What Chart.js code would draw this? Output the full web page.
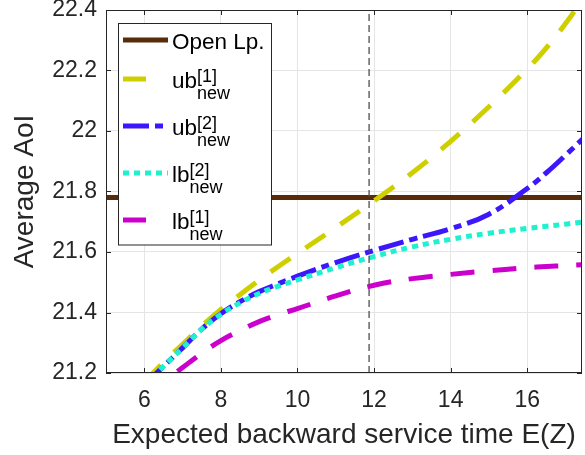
<!DOCTYPE html>
<html>
<head>
<meta charset="utf-8">
<script src="https://cdn.jsdelivr.net/npm/chart.js@4.4.0/dist/chart.umd.min.js"></script>
<style>
  html, body { margin: 0; padding: 0; background: #fff; }
  canvas { display: block; }
</style>
</head>
<body>
<canvas id="aoiChart" width="585" height="455"></canvas>
<script>
// values
const xValues = [6, 6.5, 7, 7.5, 8, 8.5, 9, 9.5, 10, 11, 12, 13, 14, 15, 16, 16.5, 17, 17.5];
const ub1New = [21.17, 21.235, 21.295, 21.355, 21.41, 21.459, 21.507, 21.552, 21.595, 21.681, 21.769, 21.862, 21.966, 22.08, 22.205, 22.275, 22.355, 22.445];
const ub2New = [21.16, 21.222, 21.283, 21.345, 21.396, 21.436, 21.469, 21.495, 21.52, 21.565, 21.605, 21.642, 21.677, 21.725, 21.81, 21.862, 21.92, 21.98];
const lb2New = [21.16, 21.222, 21.283, 21.345, 21.394, 21.432, 21.463, 21.487, 21.508, 21.548, 21.585, 21.617, 21.642, 21.662, 21.678, 21.685, 21.692, 21.7];
const lb1New = [21.12, 21.17, 21.218, 21.265, 21.307, 21.34, 21.37, 21.393, 21.413, 21.455, 21.49, 21.512, 21.526, 21.538, 21.548, 21.552, 21.555, 21.558];
const openLp = 21.78;
const markerX = 11.87;

const xRange = [5, 17.43];
const yRange = [21.2, 22.4];
const xTicks = [6, 8, 10, 12, 14, 16];
const yTicks = [21.2, 21.4, 21.6, 21.8, 22, 22.2, 22.4];

const legendLabels = [
    { main: 'Open Lp.' },
    { main: 'ub', sup: '[1]', sub: 'new' },
    { main: 'ub', sup: '[2]', sub: 'new' },
    { main: 'lb', sup: '[2]', sub: 'new' },
    { main: 'lb', sup: '[1]', sub: 'new' },
];

const FONT = '"Liberation Sans", Arial, Helvetica, sans-serif';
const AXIS_COLOR = '#262626';

const toXY = (ys) => xValues.map((x, i) => ({ x: x, y: ys[i] }));

const curve = (data, color, dash, order) => ({
    data: data,
    borderColor: color,
    borderWidth: 5,
    borderDash: dash,
    borderCapStyle: 'butt',
    pointRadius: 0,
    fill: false,
    tension: 0.4,
    clip: 0,
    order: order,
});

// box around the axes, with inward ticks on all four sides
const framePlugin = {
    id: 'frame',
    afterDatasetsDraw(chart) {
        const { ctx, chartArea: a, scales } = chart;
        ctx.save();
        ctx.strokeStyle = AXIS_COLOR;
        ctx.lineWidth = 1;
        ctx.setLineDash([]);
        ctx.strokeRect(a.left + 0.5, a.top + 0.5, a.right - a.left - 1, a.bottom - a.top - 1);
        ctx.beginPath();
        xTicks.forEach((v) => {
            const px = Math.round(scales.x.getPixelForValue(v)) + 0.5;
            ctx.moveTo(px, a.bottom); ctx.lineTo(px, a.bottom - 5);
            ctx.moveTo(px, a.top); ctx.lineTo(px, a.top + 5);
        });
        yTicks.forEach((v) => {
            const py = Math.round(scales.y.getPixelForValue(v)) + 0.5;
            ctx.moveTo(a.left, py); ctx.lineTo(a.left + 5, py);
            ctx.moveTo(a.right, py); ctx.lineTo(a.right - 5, py);
        });
        ctx.stroke();
        ctx.restore();
    },
};

// MATLAB style legend with sub/superscripts
const legendPlugin = {
    id: 'boxLegend',
    afterDraw(chart) {
        const ctx = chart.ctx;
        const rowsY = [40, 79, 126, 173, 220];
        ctx.save();
        ctx.fillStyle = '#fff';
        ctx.fillRect(118.5, 23.5, 153, 221.5);
        ctx.strokeStyle = AXIS_COLOR;
        ctx.lineWidth = 1;
        ctx.strokeRect(118.5, 23.5, 153, 221.5);

        legendLabels.forEach((lab, i) => {
            const ds = chart.data.datasets[i];
            const y = rowsY[i];
            const dashed = ds.borderDash && ds.borderDash.length === 2 && ds.borderDash[0] > 10;
            ctx.beginPath();
            ctx.setLineDash(ds.borderDash || []);
            ctx.lineWidth = ds.borderWidth;
            ctx.strokeStyle = ds.borderColor;
            ctx.lineCap = 'butt';
            ctx.moveTo(123, y);
            ctx.lineTo(dashed ? 146 : 168, y);
            ctx.stroke();

            ctx.setLineDash([]);
            ctx.fillStyle = '#000';
            ctx.textAlign = 'left';
            ctx.textBaseline = 'alphabetic';
            ctx.font = '22.5px ' + FONT;
            const base = y + 8.5;
            ctx.fillText(lab.main, 172, base);
            if (lab.sup) {
                const w = ctx.measureText(lab.main).width;
                ctx.font = '18px ' + FONT;
                ctx.fillText(lab.sup, 172 + w, base - 6);
                ctx.fillText(lab.sub, 172 + w, base + 11);
            }
        });
        ctx.restore();
    },
};

new Chart(document.getElementById('aoiChart'), {
    type: 'line',
    data: {
        datasets: [
            curve([{ x: xRange[0], y: openLp }, { x: xRange[1], y: openLp }], '#582c0b', [], 6),
            curve(toXY(ub1New), '#cfcf00', [24, 18], 5),
            curve(toXY(ub2New), '#3d17fb', [26, 6, 8, 6], 4),
            curve(toXY(lb2New), '#1ff0cf', [6, 5], 3),
            curve(toXY(lb1New), '#cc00cc', [24, 18], 2),
            {
                data: [{ x: markerX, y: yRange[0] }, { x: markerX, y: yRange[1] }],
                borderColor: '#4d4d4d',
                borderWidth: 1.3,
                borderDash: [7, 4],
                pointRadius: 0,
                fill: false,
                clip: 0,
                order: 1,
            },
        ],
    },
    options: {
        responsive: false,
        animation: false,
        devicePixelRatio: 1,
        layout: { padding: { top: 10, right: 3, left: 0, bottom: 0 } },
        plugins: {
            legend: { display: false },
            tooltip: { enabled: false },
        },
        scales: {
            x: {
                type: 'linear',
                min: xRange[0],
                max: xRange[1],
                afterBuildTicks: (s) => { s.ticks = xTicks.map((v) => ({ value: v })); },
                afterFit: (s) => { s.height = 82; s.paddingLeft = 0; s.paddingRight = 0; },
                grid: { color: '#e5e5e5', lineWidth: 1, drawTicks: false },
                border: { display: false },
                ticks: {
                    color: AXIS_COLOR,
                    font: { family: FONT, size: 23 },
                    padding: 14,
                    maxRotation: 0,
                    autoSkip: false,
                    callback: (v) => String(v),
                },
                title: {
                    display: true,
                    text: 'Expected backward service time E(Z)',
                    color: AXIS_COLOR,
                    font: { family: FONT, size: 28 },
                    padding: { top: 0, bottom: 3 },
                },
            },
            y: {
                type: 'linear',
                min: yRange[0],
                max: yRange[1],
                afterBuildTicks: (s) => { s.ticks = yTicks.map((v) => ({ value: v })); },
                afterFit: (s) => { s.width = 106; s.paddingTop = 0; s.paddingBottom = 0; },
                grid: { color: '#e5e5e5', lineWidth: 1, drawTicks: false },
                border: { display: false },
                ticks: {
                    color: AXIS_COLOR,
                    font: { family: FONT, size: 23, lineHeight: 0.8 },
                    padding: 9,
                    autoSkip: false,
                    callback: (v) => String(v),
                },
                title: {
                    display: true,
                    text: 'Average AoI',
                    color: AXIS_COLOR,
                    font: { family: FONT, size: 28 },
                    padding: { top: 8, bottom: 0 },
                },
            },
        },
    },
    plugins: [framePlugin, legendPlugin],
});
</script>
</body>
</html>
